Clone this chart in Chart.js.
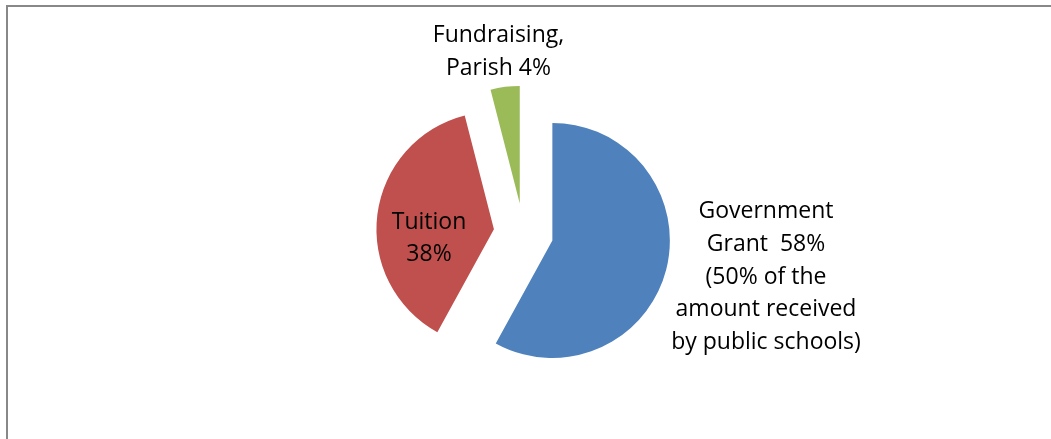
<!DOCTYPE html>
<html>
<head>
<meta charset="utf-8">
<script src="https://cdn.jsdelivr.net/npm/chart.js@4.4.1/dist/chart.umd.min.js"></script>
<style>
  html, body { margin: 0; padding: 0; background: #fff; overflow: hidden; }
  #wrap { position: relative; width: 1051px; height: 439px; overflow: hidden; }
  /* only the top and left edges of the chart frame are in view */
  #frame {
    position: absolute; left: 6px; top: 5px; width: 1045px; height: 434px;
    border-top: 2px solid #888888; border-left: 2px solid #888888;
    box-sizing: border-box;
  }
  canvas { position: absolute; left: 0; top: 0; }
</style>
</head>
<body>
<div id="wrap">
  <div id="frame"></div>
  <canvas id="pieChart" width="1051" height="439"></canvas>
</div>
<script>
// Funding sources (share of income, %)
const categories = ["Government Grant", "Tuition", "Fundraising, Parish"];
const shares = [58, 38, 4];
const sliceColors = ["#4F81BD", "#C0504D", "#9BBB59"];

// label text, one array of lines per slice
const labelLines = [
  ["Government", "Grant  58%", "(50% of the", "amount received", "by public schools)"],
  ["Tuition", "38%"],
  ["Fundraising,", "Parish 4%"]
];

const EXPLODE = 29.8;   // px each slice is pulled out from the centre

// draw each arc pulled out along its mid angle (Excel style exploded pie)
const explodePlugin = {
  id: "explode",
  beforeDatasetsDraw(chart) {
    const ctx = chart.ctx;
    chart.getDatasetMeta(0).data.forEach(arc => {
      const mid = (arc.startAngle + arc.endAngle) / 2;
      ctx.save();
      ctx.translate(Math.cos(mid) * EXPLODE, Math.sin(mid) * EXPLODE);
      arc.draw(ctx);
      ctx.restore();
    });
    return false;
  }
};

// text labels placed relative to the pie centre
const labelOffsets = [[242.5, 44], [-94.5, 5.5], [-25, -181]];
const labelPlugin = {
  id: "sliceLabels",
  afterDraw(chart) {
    const ctx = chart.ctx;
    const arc0 = chart.getDatasetMeta(0).data[0];
    const cx = arc0.x, cy = arc0.y;
    const lineH = 32.7;
    ctx.save();
    ctx.font = "23px 'Open Sans'";
    ctx.fillStyle = "#000";
    ctx.textAlign = "center";
    ctx.textBaseline = "middle";
    labelLines.forEach((lines, i) => {
      const x = cx + labelOffsets[i][0];
      const y0 = cy + labelOffsets[i][1] - (lines.length - 1) * lineH / 2;
      lines.forEach((t, j) => ctx.fillText(t, x, y0 + j * lineH));
    });
    ctx.restore();
  }
};

const ctx = document.getElementById("pieChart").getContext("2d");
new Chart(ctx, {
  type: "pie",
  data: {
    labels: categories,
    datasets: [{
      data: shares,
      backgroundColor: sliceColors,
      borderWidth: 0
    }]
  },
  options: {
    responsive: false,
    animation: false,
    radius: 117.5,
    layout: { padding: { left: 0, right: 4, top: 27, bottom: 0 } },
    plugins: {
      legend: { display: false },
      tooltip: { enabled: false }
    }
  },
  plugins: [explodePlugin, labelPlugin]
});
</script>
</body>
</html>
